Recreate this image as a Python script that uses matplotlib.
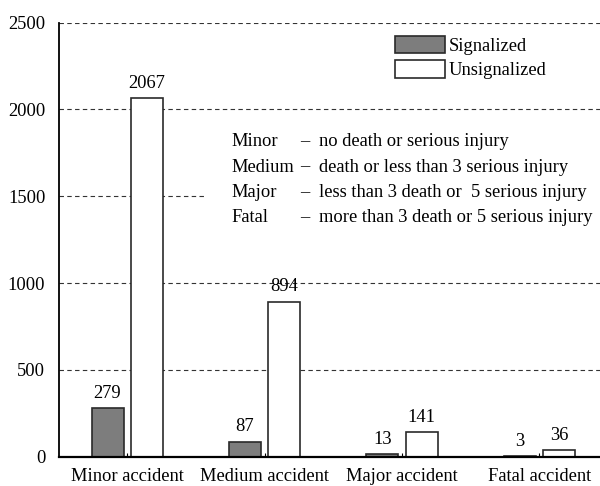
import numpy as np
import matplotlib
matplotlib.use("Agg")
import matplotlib.pyplot as plt
from matplotlib.patches import Rectangle

plt.rcParams.update({
    'font.family': ['Liberation Serif', 'DejaVu Serif'],
    'font.size': 13.3,
    'axes.linewidth': 1.3,
})

# ── DATA ─────────────────────────────────────────────────────
categories   = ["Minor accident", "Medium accident", "Major accident", "Fatal accident"]
signalized   = [279, 87, 13, 3]
unsignalized = [2067, 894, 141, 36]
yticks       = [0, 500, 1000, 1500, 2000, 2500]
severity     = ["Minor", "Medium", "Major", "Fatal"]
definitions  = ["no death or serious injury",
                "death or less than 3 serious injury",
                "less than 3 death or  5 serious injury",
                "more than 3 death or 5 serious injury"]

W, H = 600, 486
fig = plt.figure(figsize=(W / 100, H / 100), dpi=100)
ax = fig.add_axes([58.5 / W, 29.3 / H, (608 - 58.5) / W, 434 / H])

x = np.arange(len(categories))
bw, off = 0.233, 0.143
GRAY = "#7d7d7d"
EDGE = "#2a2a2a"

b1 = ax.bar(x - off, signalized, bw, color=GRAY, edgecolor=EDGE, lw=1.2,
            label="Signalized", zorder=2)
b2 = ax.bar(x + off, unsignalized, bw, color="white", edgecolor=EDGE, lw=1.2,
            label="Unsignalized", zorder=2)

for bars, vals in ((b1, signalized), (b2, unsignalized)):
    for r, v in zip(bars, vals):
        ax.annotate(str(v), (r.get_x() + r.get_width() / 2, v),
                    xytext=(0, 4.5), textcoords="offset points",
                    ha="center", va="bottom", fontsize=13.3)

ax.set_xlim(-0.5, 3.5)
ax.set_ylim(0, 2500)
ax.set_yticks(yticks)
ax.set_xticks(x)
ax.set_xticklabels(categories)
ax.tick_params(axis="y", length=0, pad=9.5)
ax.tick_params(axis="x", direction="in", length=3, width=0.8, pad=8)
ax.spines["top"].set_visible(False)
ax.spines["right"].set_visible(False)
ax.spines["bottom"].set_linewidth(1.6)
ax.yaxis.grid(True, ls=(0, (4, 3)), lw=0.8, color="#333333")
ax.set_axisbelow(True)

# white block behind the definitions
ax.add_patch(Rectangle((205 / W, 1 - 125 / H), (610 - 205) / W, -(232 - 125) / H,
                       transform=fig.transFigure, facecolor="white",
                       edgecolor="none", zorder=1.5))

ys = [146, 171.5, 197, 222]
for name, desc, yb in zip(severity, definitions, ys):
    fig.text(231 / W, 1 - yb / H, name, ha="left", va="baseline", fontsize=13.3)
    fig.text(300 / W, 1 - yb / H, "\u2013", ha="left", va="baseline", fontsize=13.3)
    fig.text(319 / W, 1 - yb / H, desc, ha="left", va="baseline", fontsize=13.3)

ax.legend(loc="upper left", bbox_to_anchor=(395 / W, 1 - 36 / H),
          bbox_transform=fig.transFigure, frameon=False, borderpad=0,
          handlelength=2.7, handleheight=1.05, handletextpad=0.2,
          labelspacing=0.3, borderaxespad=0, fontsize=13.3)

fig.savefig("out.png", dpi=100)
